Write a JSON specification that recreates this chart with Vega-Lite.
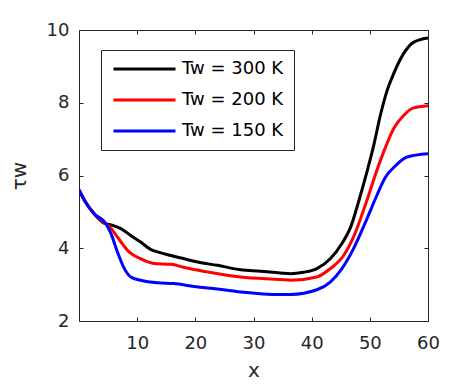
{
  "$schema": "https://vega.github.io/schema/vega-lite/v6.json",
  "width": 349,
  "height": 291,
  "autosize": {"type": "none"},
  "padding": {"left": 79, "top": 30, "right": 44, "bottom": 63},
  "background": "white",
  "config": {
    "font": "DejaVu Sans",
    "view": {"stroke": "#262626", "strokeWidth": 1},
    "axis": {
      "grid": false,
      "domain": false,
      "labelFlush": false,
      "labelOverlap": false,
      "tickColor": "#262626",
      "tickSize": -4,
      "tickWidth": 1,
      "labelColor": "#262626",
      "labelFontSize": 18,
      "labelFont": "DejaVu Sans",
      "titleFont": "DejaVu Sans",
      "titleFontSize": 20,
      "titleFontWeight": "normal",
      "titleColor": "#262626"
    },
    "legend": {
      "orient": "none",
      "legendX": 22,
      "legendY": 20,
      "strokeColor": "#262626",
      "fillColor": "white",
      "padding": 10,
      "symbolType": "stroke",
      "symbolSize": 3844,
      "symbolStrokeWidth": 3,
      "symbolOffset": 1,
      "clipHeight": 18,
      "rowPadding": 13,
      "labelOffset": 5,
      "labelFontSize": 18,
      "labelFont": "DejaVu Sans",
      "labelColor": "#000000",
      "title": null
    }
  },
  "data": {
    "values": [
      {"x": 0, "y": 5.6, "s": "Tw = 300 K"},
      {"x": 1, "y": 5.3, "s": "Tw = 300 K"},
      {"x": 2.6, "y": 4.95, "s": "Tw = 300 K"},
      {"x": 4.3, "y": 4.69, "s": "Tw = 300 K"},
      {"x": 5.8, "y": 4.63, "s": "Tw = 300 K"},
      {"x": 7.2, "y": 4.54, "s": "Tw = 300 K"},
      {"x": 8.9, "y": 4.35, "s": "Tw = 300 K"},
      {"x": 10.6, "y": 4.17, "s": "Tw = 300 K"},
      {"x": 12.3, "y": 3.97, "s": "Tw = 300 K"},
      {"x": 13.5, "y": 3.9, "s": "Tw = 300 K"},
      {"x": 15.8, "y": 3.8, "s": "Tw = 300 K"},
      {"x": 18.1, "y": 3.71, "s": "Tw = 300 K"},
      {"x": 20.4, "y": 3.62, "s": "Tw = 300 K"},
      {"x": 23.8, "y": 3.53, "s": "Tw = 300 K"},
      {"x": 27.8, "y": 3.41, "s": "Tw = 300 K"},
      {"x": 31.2, "y": 3.37, "s": "Tw = 300 K"},
      {"x": 34.6, "y": 3.32, "s": "Tw = 300 K"},
      {"x": 36.4, "y": 3.3, "s": "Tw = 300 K"},
      {"x": 38.6, "y": 3.34, "s": "Tw = 300 K"},
      {"x": 40.9, "y": 3.44, "s": "Tw = 300 K"},
      {"x": 43.2, "y": 3.71, "s": "Tw = 300 K"},
      {"x": 45.2, "y": 4.13, "s": "Tw = 300 K"},
      {"x": 46.7, "y": 4.58, "s": "Tw = 300 K"},
      {"x": 48.1, "y": 5.3, "s": "Tw = 300 K"},
      {"x": 49.5, "y": 6.1, "s": "Tw = 300 K"},
      {"x": 50.7, "y": 6.85, "s": "Tw = 300 K"},
      {"x": 51.8, "y": 7.65, "s": "Tw = 300 K"},
      {"x": 52.9, "y": 8.3, "s": "Tw = 300 K"},
      {"x": 54.1, "y": 8.8, "s": "Tw = 300 K"},
      {"x": 55.8, "y": 9.35, "s": "Tw = 300 K"},
      {"x": 57.5, "y": 9.66, "s": "Tw = 300 K"},
      {"x": 60, "y": 9.78, "s": "Tw = 300 K"},
      {"x": 0, "y": 5.6, "s": "Tw = 200 K"},
      {"x": 1, "y": 5.3, "s": "Tw = 200 K"},
      {"x": 2.6, "y": 4.95, "s": "Tw = 200 K"},
      {"x": 4.4, "y": 4.7, "s": "Tw = 200 K"},
      {"x": 5.5, "y": 4.55, "s": "Tw = 200 K"},
      {"x": 6.6, "y": 4.31, "s": "Tw = 200 K"},
      {"x": 8.6, "y": 3.9, "s": "Tw = 200 K"},
      {"x": 10.6, "y": 3.71, "s": "Tw = 200 K"},
      {"x": 12.9, "y": 3.58, "s": "Tw = 200 K"},
      {"x": 15.8, "y": 3.56, "s": "Tw = 200 K"},
      {"x": 18.1, "y": 3.47, "s": "Tw = 200 K"},
      {"x": 22.1, "y": 3.35, "s": "Tw = 200 K"},
      {"x": 27.8, "y": 3.21, "s": "Tw = 200 K"},
      {"x": 34.6, "y": 3.14, "s": "Tw = 200 K"},
      {"x": 36.4, "y": 3.12, "s": "Tw = 200 K"},
      {"x": 40.9, "y": 3.21, "s": "Tw = 200 K"},
      {"x": 43.2, "y": 3.44, "s": "Tw = 200 K"},
      {"x": 45.5, "y": 3.8, "s": "Tw = 200 K"},
      {"x": 47.2, "y": 4.31, "s": "Tw = 200 K"},
      {"x": 49.5, "y": 5.32, "s": "Tw = 200 K"},
      {"x": 51.2, "y": 6.14, "s": "Tw = 200 K"},
      {"x": 52.7, "y": 6.78, "s": "Tw = 200 K"},
      {"x": 54.1, "y": 7.29, "s": "Tw = 200 K"},
      {"x": 55.8, "y": 7.65, "s": "Tw = 200 K"},
      {"x": 57.5, "y": 7.86, "s": "Tw = 200 K"},
      {"x": 60, "y": 7.92, "s": "Tw = 200 K"},
      {"x": 0, "y": 5.6, "s": "Tw = 150 K"},
      {"x": 1, "y": 5.3, "s": "Tw = 150 K"},
      {"x": 2.6, "y": 4.95, "s": "Tw = 150 K"},
      {"x": 4.6, "y": 4.68, "s": "Tw = 150 K"},
      {"x": 5.5, "y": 4.4, "s": "Tw = 150 K"},
      {"x": 6.6, "y": 3.9, "s": "Tw = 150 K"},
      {"x": 7.8, "y": 3.44, "s": "Tw = 150 K"},
      {"x": 8.9, "y": 3.21, "s": "Tw = 150 K"},
      {"x": 10.6, "y": 3.12, "s": "Tw = 150 K"},
      {"x": 13.5, "y": 3.05, "s": "Tw = 150 K"},
      {"x": 16.3, "y": 3.03, "s": "Tw = 150 K"},
      {"x": 19.8, "y": 2.95, "s": "Tw = 150 K"},
      {"x": 23.8, "y": 2.88, "s": "Tw = 150 K"},
      {"x": 27.8, "y": 2.8, "s": "Tw = 150 K"},
      {"x": 34.6, "y": 2.73, "s": "Tw = 150 K"},
      {"x": 36.4, "y": 2.73, "s": "Tw = 150 K"},
      {"x": 40.9, "y": 2.86, "s": "Tw = 150 K"},
      {"x": 43.2, "y": 3.07, "s": "Tw = 150 K"},
      {"x": 45.2, "y": 3.44, "s": "Tw = 150 K"},
      {"x": 47.2, "y": 3.99, "s": "Tw = 150 K"},
      {"x": 49.5, "y": 4.81, "s": "Tw = 150 K"},
      {"x": 51.2, "y": 5.45, "s": "Tw = 150 K"},
      {"x": 52.7, "y": 5.96, "s": "Tw = 150 K"},
      {"x": 54.1, "y": 6.22, "s": "Tw = 150 K"},
      {"x": 56.4, "y": 6.51, "s": "Tw = 150 K"},
      {"x": 60, "y": 6.6, "s": "Tw = 150 K"}
    ]
  },
  "layer": [
    {
      "mark": {"type": "line", "strokeWidth": 3, "interpolate": "monotone", "clip": true},
      "encoding": {
        "x": {
          "field": "x", "type": "quantitative",
          "scale": {"domain": [0, 60], "nice": false, "zero": false},
          "axis": {"orient": "bottom", "values": [10, 20, 30, 40, 50, 60], "title": "x", "labelPadding": 17, "titlePadding": 8}
        },
        "y": {
          "field": "y", "type": "quantitative",
          "scale": {"domain": [2, 10], "nice": false, "zero": false},
          "axis": {"orient": "left", "values": [2, 4, 6, 8, 10], "title": "τw", "labelPadding": 14, "titlePadding": 17}
        },
        "color": {
          "field": "s", "type": "nominal",
          "scale": {"domain": ["Tw = 300 K", "Tw = 200 K", "Tw = 150 K"], "range": ["#000000", "#ff0000", "#0000ff"]},
          "legend": {}
        },
        "order": {"field": "x", "type": "quantitative"}
      }
    },
    {
      "mark": {"type": "point", "opacity": 0},
      "encoding": {
        "x": {
          "field": "x", "type": "quantitative",
          "axis": {"orient": "top", "values": [10, 20, 30, 40, 50, 60], "labels": false, "title": null}
        },
        "y": {
          "field": "y", "type": "quantitative",
          "axis": {"orient": "right", "values": [2, 4, 6, 8, 10], "labels": false, "title": null}
        }
      }
    }
  ],
  "resolve": {"axis": {"x": "independent", "y": "independent"}}
}
